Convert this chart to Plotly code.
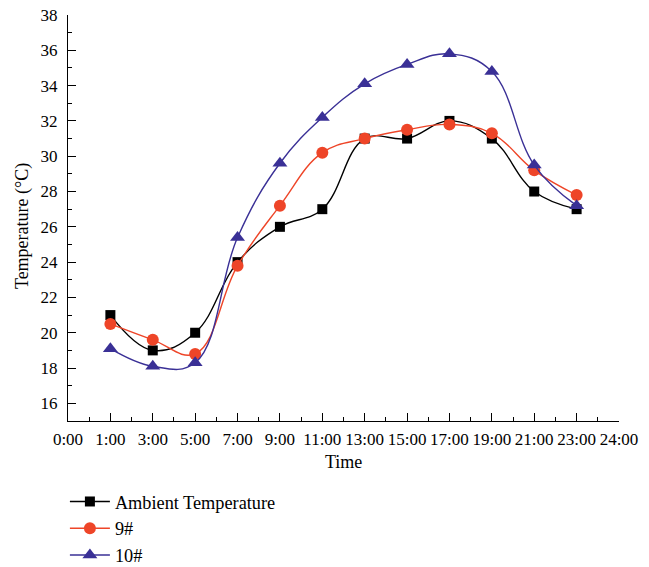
import plotly.graph_objects as go

# Axis categories (hour of day) and the sampled hours
tick_labels = ["0:00", "1:00", "3:00", "5:00", "7:00", "9:00", "11:00", "13:00",
               "15:00", "17:00", "19:00", "21:00", "23:00", "24:00"]
times = ["1:00", "3:00", "5:00", "7:00", "9:00", "11:00", "13:00",
         "15:00", "17:00", "19:00", "21:00", "23:00"]

# Temperatures (°C)
ambient = [21.0, 19.0, 20.0, 24.0, 26.0, 27.0, 31.0, 31.0, 32.0, 31.0, 28.0, 27.0]
s9 = [20.5, 19.6, 18.8, 23.8, 27.2, 30.2, 31.0, 31.5, 31.8, 31.3, 29.2, 27.8]
s10 = [19.1, 18.1, 18.3, 25.4, 29.6, 32.2, 34.1, 35.2, 35.8, 34.8, 29.5, 27.2]

FONT = "Liberation Serif"
BLACK = "#000000"
RED = "#EE4528"
BLUE = "#3A3096"

fig = go.Figure()

series = [
    ("Ambient Temperature", ambient, BLACK, "square", 10),
    ("9#", s9, RED, "circle", 12),
    ("10#", s10, BLUE, "triangle-up", 13),
]
for name, vals, color, symbol, size in series:
    fig.add_trace(go.Scatter(
        x=times, y=vals, name=name, mode="lines+markers",
        line=dict(color=color, width=1.4, shape="spline", smoothing=1.15),
        marker=dict(color=color, symbol=symbol, size=size, line=dict(width=0)),
    ))

# empty trace carrying the overlay axis used for the minor x ticks
fig.add_trace(go.Scatter(x=[], y=[], xaxis="x2", showlegend=False, hoverinfo="skip"))

n_cat = len(tick_labels) - 1

fig.update_layout(
    width=649, height=567,
    margin=dict(l=68, r=30, t=15, b=146, autoexpand=False),
    paper_bgcolor="white", plot_bgcolor="white",
    font=dict(family=FONT, size=17, color="black"),
    xaxis=dict(
        type="category", categoryorder="array", categoryarray=tick_labels,
        tickvals=tick_labels, ticktext=tick_labels,
        range=[0, n_cat],
        showline=True, linecolor="black", linewidth=1.3,
        ticks="inside", ticklen=8, tickwidth=1.3, tickcolor="black",
        ticklabelstandoff=2,
        showgrid=False, zeroline=False,
        tickfont=dict(size=17),
    ),
    xaxis2=dict(
        overlaying="x", anchor="y", side="bottom",
        range=[0, n_cat], tickmode="linear", tick0=0.5, dtick=1,
        ticks="inside", ticklen=4, tickwidth=1.3, tickcolor="black",
        showticklabels=False, showline=False, showgrid=False, zeroline=False,
    ),
    yaxis=dict(
        range=[15, 38], tick0=16, dtick=2,
        showline=True, linecolor="black", linewidth=1.3,
        ticks="inside", ticklen=8, tickwidth=1.3, tickcolor="black",
        minor=dict(dtick=1, tick0=15, ticks="inside", ticklen=4, tickwidth=1.3, tickcolor="black"),
        ticklabelstandoff=6,
        showgrid=False, zeroline=False,
        tickfont=dict(size=17),
    ),
    annotations=[
        dict(text="Temperature (°C)", textangle=-90, showarrow=False,
             xref="paper", yref="paper", x=-0.0835, y=0.48,
             xanchor="center", yanchor="middle", font=dict(size=18)),
        dict(text="Time", showarrow=False,
             xref="paper", yref="paper", x=0.5, y=-0.101,
             xanchor="center", yanchor="middle", font=dict(size=18)),
    ],
    legend=dict(
        xref="container", yref="container",
        x=0.100, y=0.148, xanchor="left", yanchor="top",
        orientation="v", font=dict(size=18.3), itemwidth=40,
        bgcolor="rgba(0,0,0,0)", tracegroupgap=0,
    ),
    showlegend=True,
)

fig.write_html("out.html")
